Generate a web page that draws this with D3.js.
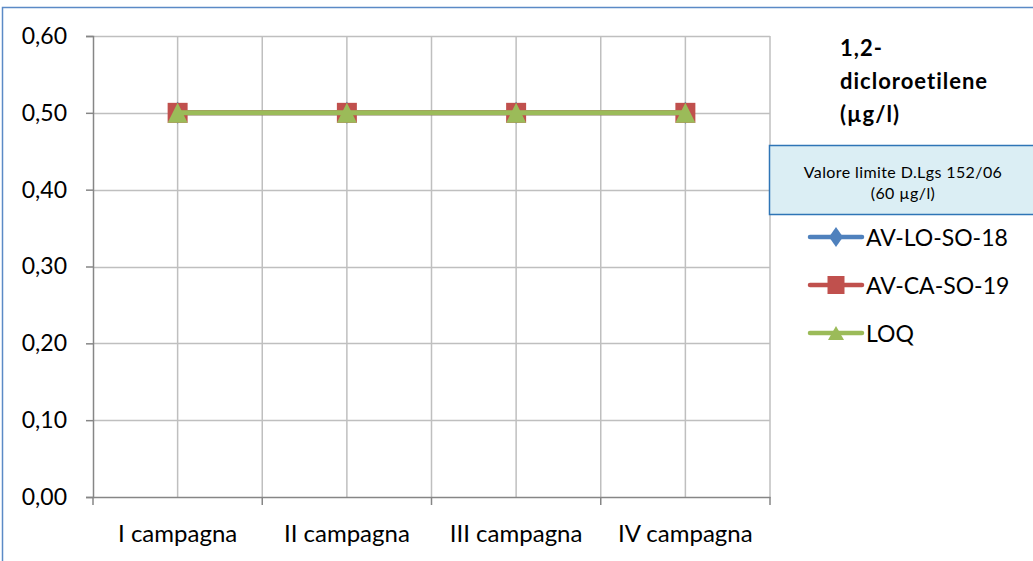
<!DOCTYPE html>
<html><head><meta charset="utf-8">
<script src="https://cdn.jsdelivr.net/npm/d3@7"></script>
<style>body{margin:0;background:#fff}svg{display:block}text{font-family:Lato,"Open Sans",sans-serif}</style>
</head><body>
<svg id="c" width="1033" height="561"></svg>
<script>
const categories = ["I campagna","II campagna","III campagna","IV campagna"];
const seriesNames = ["AV-LO-SO-18","AV-CA-SO-19","LOQ"];
const avLoSo18 = [0.5,0.5,0.5,0.5];
const avCaSo19 = [0.5,0.5,0.5,0.5];
const loq = [0.5,0.5,0.5,0.5];
const yTicks = [0,0.1,0.2,0.3,0.4,0.5,0.6];
const titleLines = ["1,2-","dicloroetilene","(µg/l)"];
const limitLines = ["Valore limite D.Lgs 152/06","(60 µg/l)"];

const series = [
  {name:seriesNames[0], values:avLoSo18, color:"#4f81bd", marker:"diamond"},
  {name:seriesNames[1], values:avCaSo19, color:"#c0504d", marker:"square"},
  {name:seriesNames[2], values:loq, color:"#9bbb59", marker:"triangle"}
];

const svg = d3.select("#c");
const L=93, R=770, T=36, B=497;
const x = d3.scaleBand().domain(categories).range([L,R]);
const y = d3.scaleLinear().domain([0,0.6]).range([B,T]);

// outer border
svg.append("rect").attr("x",2.5).attr("y",7.5).attr("width",1040).attr("height",600)
  .attr("fill","none").attr("stroke","#5b8ac6").attr("stroke-width",1.5);

// horizontal gridlines
svg.append("g").selectAll("line").data(yTicks.slice(1)).join("line")
  .attr("x1",L).attr("x2",R).attr("y1",d=>Math.round(y(d))+0.5).attr("y2",d=>Math.round(y(d))+0.5)
  .attr("stroke","#bfbfbf").attr("stroke-width",1.5);
// vertical gridlines at boundaries and centers
const vx = [];
categories.forEach(c=>{vx.push(x(c)); vx.push(x(c)+x.bandwidth()/2);});
vx.push(R);
svg.append("g").selectAll("line").data(vx.slice(1)).join("line")
  .attr("x1",d=>d).attr("x2",d=>d).attr("y1",T).attr("y2",B)
  .attr("stroke","#bfbfbf").attr("stroke-width",1.5);

// y axis
const yAxis = svg.append("g").attr("transform",`translate(${L},0)`)
  .call(d3.axisLeft(y).tickValues(yTicks).tickSize(7).tickPadding(19)
    .tickFormat(d=>d3.format(".2f")(d).replace(".",",")));
yAxis.select(".domain").attr("stroke","#868686").attr("stroke-width",1.5);
yAxis.selectAll(".tick line").attr("stroke","#868686").attr("stroke-width",1.5);
yAxis.selectAll("text").attr("font-size",23).attr("fill","#000").attr("font-family","Lato,sans-serif");

// x axis
const xAxis = svg.append("g").attr("transform",`translate(0,${B})`)
  .call(d3.axisBottom(x).tickSize(0));
xAxis.select(".domain").attr("stroke","#868686").attr("stroke-width",1.5);
xAxis.selectAll("text").attr("font-size",24).attr("fill","#000").attr("font-family","Lato,sans-serif")
  .attr("dy",null).attr("y",45);
const xt = categories.map(c=>x(c)); xt.push(R);
svg.append("g").selectAll("line").data(xt).join("line")
  .attr("x1",d=>d).attr("x2",d=>d).attr("y1",B).attr("y2",B+8)
  .attr("stroke","#868686").attr("stroke-width",1.5);

function markerPath(type,w,h){
  if(type==="diamond") return `M0,${-h/2}L${w/2},0L0,${h/2}L${-w/2},0Z`;
  if(type==="square") return `M${-w/2},${-h/2}h${w}v${h}h${-w}Z`;
  return `M0,${-h/2}L${w/2},${h/2}L${-w/2},${h/2}Z`;
}
const plotSize = {diamond:[16,22],square:[20,20],triangle:[20,20]};
const legSize = {diamond:[14,20],square:[17,18],triangle:[16,14]};
const cx = c=>x(c)+x.bandwidth()/2;
const line = d3.line().x((d,i)=>cx(categories[i])).y(d=>y(d));
series.forEach(s=>{
  svg.append("path").datum(s.values).attr("d",line).attr("fill","none")
    .attr("stroke",s.color).attr("stroke-width",5);
  svg.append("g").selectAll("path").data(s.values).join("path")
    .attr("transform",(d,i)=>`translate(${cx(categories[i])},${y(d)})`)
    .attr("d",markerPath(s.marker, ...plotSize[s.marker])).attr("fill",s.color);
});

// title
svg.append("g").selectAll("text").data(titleLines).join("text")
  .attr("x",840).attr("y",(d,i)=>56+i*33).attr("font-size",22).attr("font-weight","bold")
  .attr("letter-spacing",1).attr("fill","#000").text(d=>d);

// limit box
svg.append("rect").attr("x",769.5).attr("y",145.5).attr("width",270).attr("height",69)
  .attr("fill","#dbeef4").attr("stroke","#2e75b6").attr("stroke-width",1.5);
svg.append("g").selectAll("text").data(limitLines).join("text")
  .attr("x",903).attr("y",(d,i)=>178+i*21).attr("text-anchor","middle").attr("font-size",16)
  .attr("letter-spacing",0.4).attr("fill","#000").text(d=>d);

// legend
const lg = svg.append("g").selectAll("g").data(series).join("g")
  .attr("transform",(d,i)=>`translate(0,${237+i*48})`);
lg.append("line").attr("x1",810).attr("x2",862).attr("y1",0).attr("y2",0)
  .attr("stroke",d=>d.color).attr("stroke-width",4.5).attr("stroke-linecap","round");
lg.append("path").attr("transform","translate(836,0)")
  .attr("d",d=>markerPath(d.marker, ...legSize[d.marker])).attr("fill",d=>d.color);
lg.append("text").attr("x",866).attr("y",9).attr("font-size",23).attr("fill","#000").text(d=>d.name);
</script>
</body></html>
